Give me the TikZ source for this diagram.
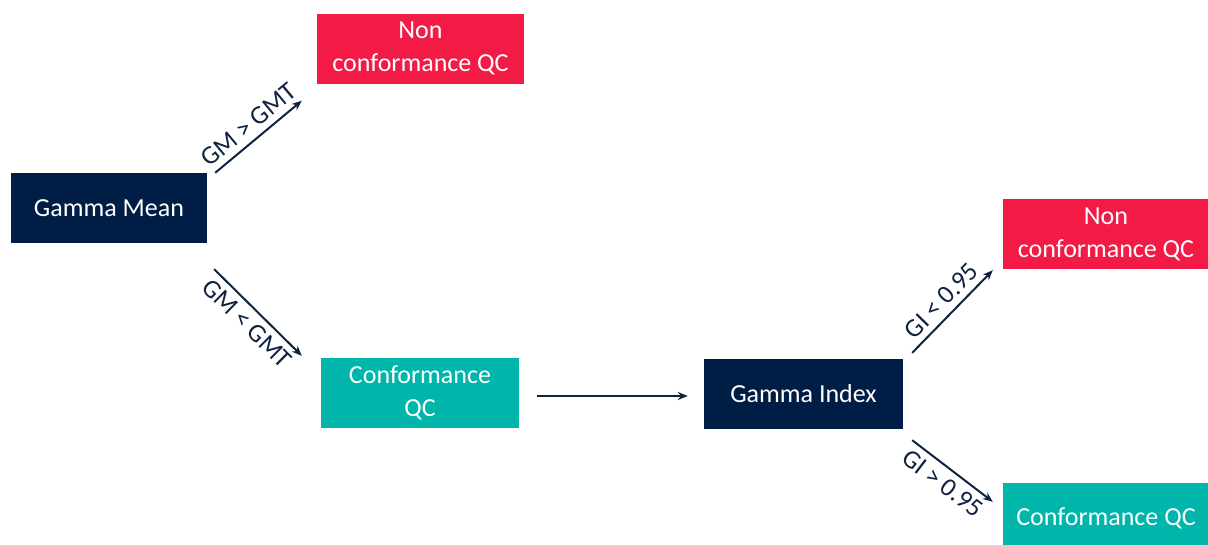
\documentclass[tikz,border=0pt]{standalone}
\usepackage{fontspec}
\setmainfont{Carlito}
\usetikzlibrary{arrows.meta}
\definecolor{navy}{HTML}{001D45}
\definecolor{ncred}{HTML}{F31A45}
\definecolor{teal}{HTML}{00B5AA}
\definecolor{arrowc}{HTML}{0E2340}
\tikzset{
  box/.style={rectangle, inner sep=0pt, text=white, align=center,
    font=\fontsize{26}{33}\selectfont},
  darkbox/.style={box, fill=navy, minimum width=196pt, minimum height=70pt},
  redbox/.style={box, fill=ncred, minimum height=70pt},
  tealbox/.style={box, fill=teal, minimum height=70pt},
  conn/.style={draw=arrowc, line width=2pt, -{Stealth[length=10pt,width=8pt]}},
  lbl/.style={font=\fontsize{26}{30}\selectfont, text=arrowc, sloped, inner sep=6pt}
}
\begin{document}
\begin{tikzpicture}[x=1pt,y=-1pt]
\useasboundingbox (0,0) rectangle (1208,544);
\clip (0,0) rectangle (1208,544);
\node[darkbox] (gm) at (109,208) {Gamma Mean};
\node[redbox, minimum width=207pt] (nc1) at (420.5,48.5) {Non\\conformance QC};
\node[tealbox, minimum width=198pt] (c1) at (420,393) {Conformance\\QC};
\node[darkbox, minimum width=199pt] (gi) at (803.5,394) {Gamma Index};
\node[redbox, minimum width=206pt] (nc2) at (1106,234) {Non\\conformance QC};
\node[tealbox, minimum width=206pt] (c2) at (1106,518) {Conformance QC};
\draw[conn] ([xshift=8pt]gm.north east) -- node[lbl, above] {GM > GMT} ([xshift=-15pt,yshift=-17pt]nc1.south west);
\draw[conn] ([xshift=7pt,yshift=-26pt]gm.south east) -- node[lbl, below] {GM < GMT} ([xshift=-19pt,yshift=2pt]c1.north west);
\draw[conn] ([xshift=18pt,yshift=-3pt]c1.east) -- ([xshift=-16pt,yshift=-2pt]gi.west);
\draw[conn] ([xshift=9pt,yshift=6pt]gi.north east) -- node[lbl, above] {GI < 0.95} ([xshift=-10pt,yshift=-1pt]nc2.south west);
\draw[conn] ([xshift=9pt,yshift=-11pt]gi.south east) -- node[lbl, below] {GI > 0.95} ([xshift=-10pt,yshift=-19pt]c2.north west);
\end{tikzpicture}
\end{document}
